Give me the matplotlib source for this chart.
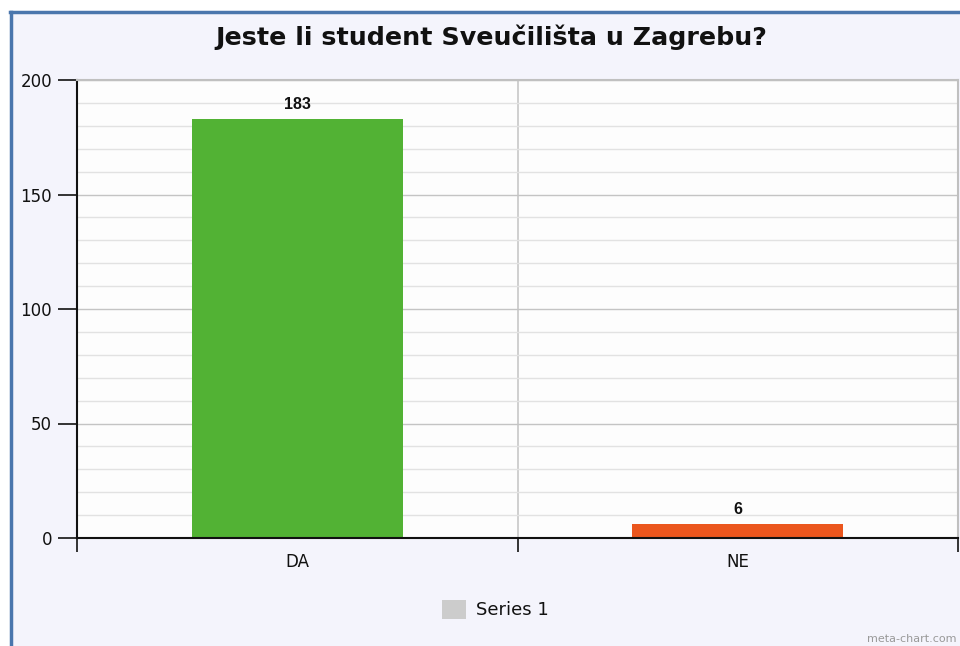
import matplotlib
matplotlib.use("Agg")
import matplotlib.pyplot as plt
from matplotlib.lines import Line2D
from matplotlib.patches import Rectangle
from matplotlib.ticker import MultipleLocator, FixedLocator

categories = ["DA", "NE"]
values = [183, 6]
colors = ["#52b234", "#eb561d"]
title = "Jeste li student Sveučilišta u Zagrebu?"
series_name = "Series 1"

W, H = 960, 646
fig = plt.figure(figsize=(W / 100, H / 100), dpi=100)
fig.patch.set_facecolor("#f4f4fc")

ax = fig.add_axes([77 / W, (H - 538) / H, 881 / W, 458 / H])
ax.set_facecolor("#fdfdfd")

x = list(range(len(categories)))
bars = ax.bar(x, values, width=0.48, color=colors, zorder=3)
for xi, v in zip(x, values):
    ax.annotate(str(v), (xi, v), xytext=(0, 5), textcoords="offset points",
                ha="center", va="bottom", fontsize=11.5, fontweight="bold", color="#111111",
                family=["Liberation Sans", "DejaVu Sans"])

ax.set_xlim(-0.5, len(categories) - 0.5)
ax.set_ylim(0, 200)
ax.yaxis.set_major_locator(MultipleLocator(50))
ax.yaxis.set_minor_locator(MultipleLocator(10))
ax.grid(axis="y", which="minor", color="#e2e2e2", lw=1, zorder=0)
ax.grid(axis="y", which="major", color="#c4c4c4", lw=1, zorder=0)

ax.xaxis.set_major_locator(FixedLocator([i - 0.5 for i in range(len(categories) + 1)]))
ax.xaxis.set_minor_locator(FixedLocator(x))
ax.set_xticklabels([""] * (len(categories) + 1))
ax.set_xticklabels(categories, minor=True)
ax.tick_params(axis="x", which="major", length=10, width=1.2, color="#111111", direction="out")
ax.tick_params(axis="x", which="minor", length=0, pad=11, labelsize=12, labelcolor="#111111")
ax.tick_params(axis="y", which="major", length=14, width=1.2, color="#111111", labelsize=12,
               pad=4, labelcolor="#111111")
ax.tick_params(axis="y", which="minor", length=0)
for i in range(1, len(categories)):
    ax.axvline(i - 0.5, color="#c8c8c8", lw=1.2, zorder=1)

for s in ["top", "right"]:
    ax.spines[s].set_color("#c0c0c0")
    ax.spines[s].set_linewidth(1.5)
for s in ["left", "bottom"]:
    ax.spines[s].set_color("#111111")
    ax.spines[s].set_linewidth(1.5)
ax.spines["bottom"].set_zorder(5)

fig.text(491 / W, 1 - 37 / H, title, ha="center", va="center", fontsize=18.3,
         fontweight="bold", color="#111111")

# legend
fig.patches.append(Rectangle((442 / W, 1 - 619 / H), 24 / W, 19 / H,
                             transform=fig.transFigure, facecolor="#cccccc", edgecolor="none"))
fig.text(476 / W, 1 - 610 / H, series_name, ha="left", va="center", fontsize=13, color="#111111")

fig.text(957 / W, 1 - 639 / H, "meta-chart.com", ha="right", va="center", fontsize=8, color="#999999")

# border
fig.add_artist(Line2D([11 / W, 11 / W], [0, 1 - 12 / H], transform=fig.transFigure,
                      color="#4a76ad", lw=2.5))
fig.add_artist(Line2D([10 / W, 1], [1 - 12 / H, 1 - 12 / H], transform=fig.transFigure,
                      color="#4a76ad", lw=2.5))
fig.patches.append(Rectangle((0, 0), 10 / W, 1, transform=fig.transFigure,
                             facecolor="white", edgecolor="none", zorder=-1))
fig.patches.append(Rectangle((0, 1 - 11 / H), 1, 11 / H, transform=fig.transFigure,
                             facecolor="white", edgecolor="none", zorder=-1))

fig.savefig("out.png", dpi=100, facecolor=fig.get_facecolor())
